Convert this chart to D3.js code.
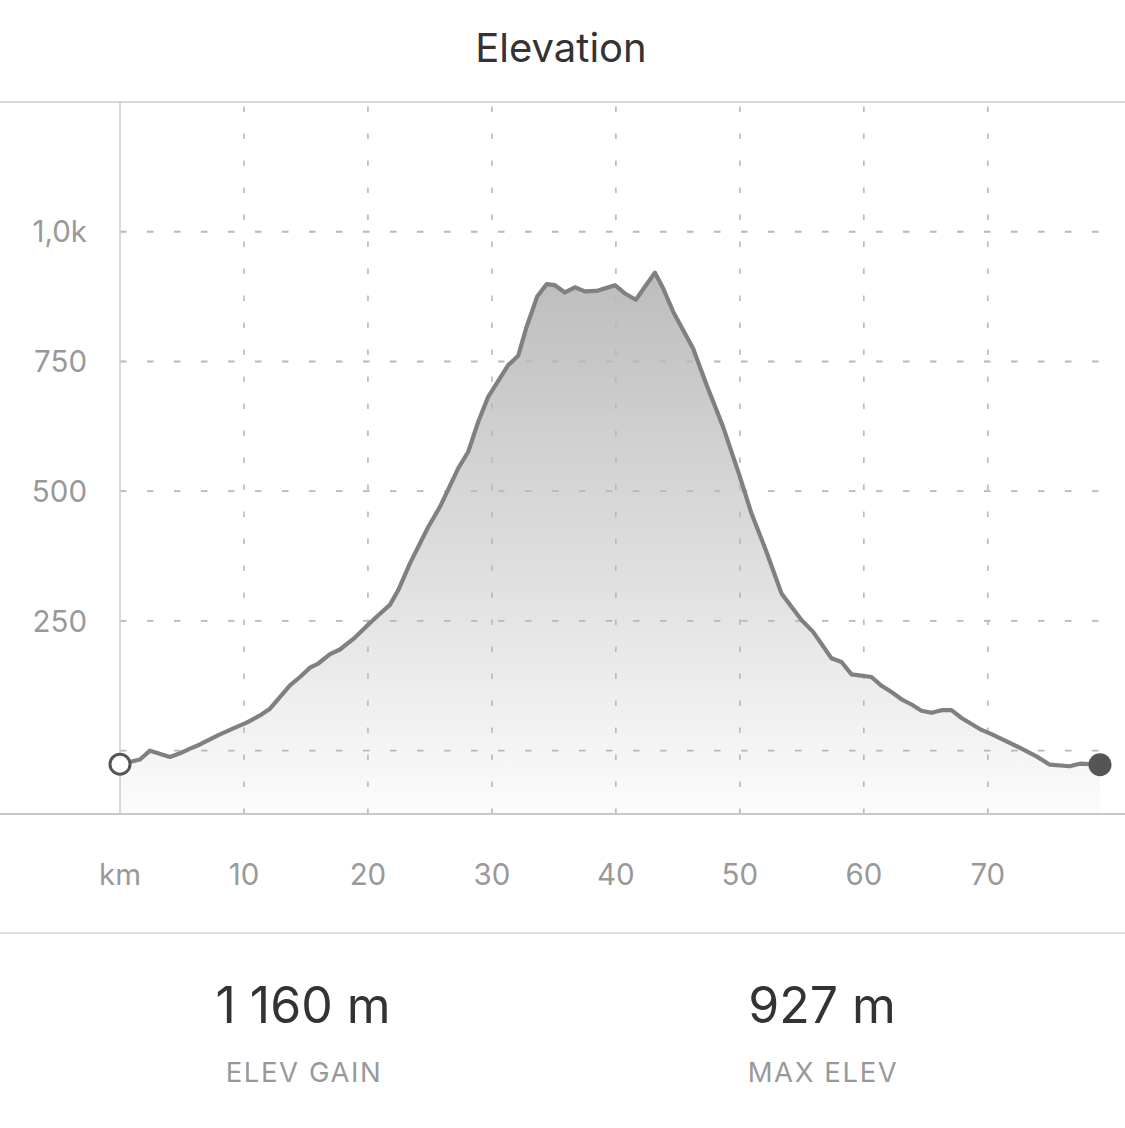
<!DOCTYPE html>
<html>
<head>
<meta charset="utf-8">
<script src="https://cdn.jsdelivr.net/npm/d3@7"></script>
<style>
  html, body { margin: 0; padding: 0; background: #ffffff; }
  svg { display: block; font-family: Inter, "Noto Sans", sans-serif; }
</style>
</head>
<body>
<svg id="chart" width="1125" height="1128"></svg>
<script>
// ---- data ----
const distanceKm = [0.00, 1.61, 2.42, 4.03, 4.84, 5.65, 6.45, 7.93, 9.14, 10.22,
  11.29, 12.10, 13.71, 14.52, 15.32, 15.99, 16.94, 17.74, 18.95, 19.89,
  20.70, 21.77, 22.44, 23.39, 24.86, 25.81, 27.28, 28.09, 28.90, 29.70,
  31.31, 32.12, 32.80, 33.65, 34.41, 35.08, 35.89, 36.69, 37.50, 38.44,
  39.92, 40.73, 41.61, 42.34, 43.15, 43.81, 44.62, 46.23, 47.31, 48.65,
  50.00, 50.94, 52.15, 53.36, 54.97, 55.91, 57.39, 58.20, 59.01, 60.62,
  61.43, 62.23, 63.04, 63.85, 64.65, 65.46, 66.27, 67.07, 67.88, 69.49,
  70.30, 72.72, 73.93, 75.00, 76.61, 77.42, 78.23, 79.05];
const elevationM = [-26, -17, 0, -12, -5, 4, 12, 30, 43, 54,
  68, 81, 126, 142, 160, 168, 186, 195, 218, 240,
  258, 281, 309, 361, 431, 470, 544, 576, 634, 682,
  743, 761, 817, 875, 899, 897, 883, 893, 885, 886,
  897, 881, 869, 894, 921, 891, 846, 775, 705, 624,
  528, 457, 383, 303, 252, 229, 178, 171, 147, 142,
  125, 113, 99, 89, 77, 73, 78, 78, 63, 40,
  32, 4, -11, -27, -30, -25, -26, -27];
const xTicks = [0, 10, 20, 30, 40, 50, 60, 70];
const xTickLabels = ["km", "10", "20", "30", "40", "50", "60", "70"];
const yTicks = [0, 250, 500, 750, 1000];
const yTickLabels = ["", "250", "500", "750", "1,0k"];
const chartTitle = "Elevation";
const statValues = ["1 160 m", "927 m"];
const statLabels = ["ELEV GAIN", "MAX ELEV"];

// ---- layout ----
const W = 1125, H = 1128;
const plotLeft = 120, plotRight = 1100, plotTop = 102, plotBottom = 814;
const svg = d3.select("#chart");

const x = d3.scaleLinear().domain([0, 79.05]).range([plotLeft, plotRight]);
const y = d3.scaleLinear().domain([-122, 1250]).range([plotBottom, plotTop]);

const data = distanceKm.map((d, i) => ({ km: d, m: elevationM[i] }));

// title
svg.append("text")
  .attr("x", 561).attr("y", 62)
  .attr("text-anchor", "middle")
  .attr("font-size", 40)
  .attr("fill", "#333333")
  .text(chartTitle);

// gradient
const defs = svg.append("defs");
const grad = defs.append("linearGradient")
  .attr("id", "fillGrad")
  .attr("gradientUnits", "userSpaceOnUse")
  .attr("x1", 0).attr("x2", 0)
  .attr("y1", y(d3.max(elevationM))).attr("y2", plotBottom);
grad.append("stop").attr("offset", "0%").attr("stop-color", "#bdbdbd");
grad.append("stop").attr("offset", "60%").attr("stop-color", "#e2e2e2");
grad.append("stop").attr("offset", "100%").attr("stop-color", "#fcfcfc");

// area
const area = d3.area()
  .x(d => x(d.km))
  .y0(plotBottom)
  .y1(d => y(d.m));
svg.append("path")
  .datum(data)
  .attr("d", area)
  .attr("fill", "url(#fillGrad)");

// grid (drawn over area, under line)
const grid = svg.append("g");
grid.selectAll("line.h")
  .data(yTicks)
  .join("line")
  .attr("x1", plotLeft).attr("x2", plotRight)
  .attr("y1", d => y(d)).attr("y2", d => y(d))
  .attr("stroke", "#b8b8b8")
  .attr("stroke-width", 1.8)
  .attr("stroke-dasharray", "6.5,20.5");
grid.selectAll("line.v")
  .data(xTicks.filter(d => d > 0))
  .join("line")
  .attr("x1", d => x(d)).attr("x2", d => x(d))
  .attr("y1", plotBottom).attr("y2", plotTop)
  .attr("stroke", "#b8b8b8")
  .attr("stroke-width", 1.6)
  .attr("stroke-dasharray", "5.5,21.5");

// frame lines
svg.append("line").attr("x1", 0).attr("x2", W).attr("y1", plotTop).attr("y2", plotTop)
  .attr("stroke", "#cccccc").attr("stroke-width", 1.5);
svg.append("line").attr("x1", 0).attr("x2", W).attr("y1", plotBottom).attr("y2", plotBottom)
  .attr("stroke", "#c8c8c8").attr("stroke-width", 2);
svg.append("line").attr("x1", plotLeft).attr("x2", plotLeft).attr("y1", plotTop).attr("y2", plotBottom)
  .attr("stroke", "#cccccc").attr("stroke-width", 1.5);
svg.append("line").attr("x1", 0).attr("x2", W).attr("y1", 933).attr("y2", 933)
  .attr("stroke", "#d0d0d0").attr("stroke-width", 1.5);

// y tick labels
svg.append("g").selectAll("text")
  .data(yTicks)
  .join("text")
  .attr("x", 87)
  .attr("y", d => y(d))
  .attr("dy", "0.36em")
  .attr("text-anchor", "end")
  .attr("font-size", 29.5)
  .attr("fill", "#999999")
  .text((d, i) => yTickLabels[i]);

// x tick labels
svg.append("g").selectAll("text")
  .data(xTicks)
  .join("text")
  .attr("x", d => x(d))
  .attr("y", 885)
  .attr("text-anchor", "middle")
  .attr("font-size", 29.5)
  .attr("fill", "#999999")
  .text((d, i) => xTickLabels[i]);

// line
const line = d3.line().x(d => x(d.km)).y(d => y(d.m));
svg.append("path")
  .datum(data)
  .attr("d", line)
  .attr("fill", "none")
  .attr("stroke", "#808080")
  .attr("stroke-width", 4.2)
  .attr("stroke-linejoin", "round")
  .attr("stroke-linecap", "round");

// end markers
const first = data[0], last = data[data.length - 1];
svg.append("circle")
  .attr("cx", x(first.km)).attr("cy", y(first.m)).attr("r", 10)
  .attr("fill", "#ffffff").attr("stroke", "#555555").attr("stroke-width", 3);
svg.append("circle")
  .attr("cx", x(last.km)).attr("cy", y(last.m)).attr("r", 11.5)
  .attr("fill", "#555555");

// stats
const statX = [303, 822];
const stats = svg.append("g");
stats.selectAll("text.v")
  .data(statValues)
  .join("text")
  .attr("x", (d, i) => statX[i]).attr("y", 1023)
  .attr("text-anchor", "middle")
  .attr("font-size", 50)
  .attr("fill", "#333333")
  .text(d => d);
stats.selectAll("text.l")
  .data(statLabels)
  .join("text")
  .attr("x", (d, i) => statX[i] + 1).attr("y", 1082)
  .attr("text-anchor", "middle")
  .attr("font-size", 27.5)
  .attr("letter-spacing", 1.6)
  .attr("fill", "#999999")
  .text(d => d);
</script>
</body>
</html>
